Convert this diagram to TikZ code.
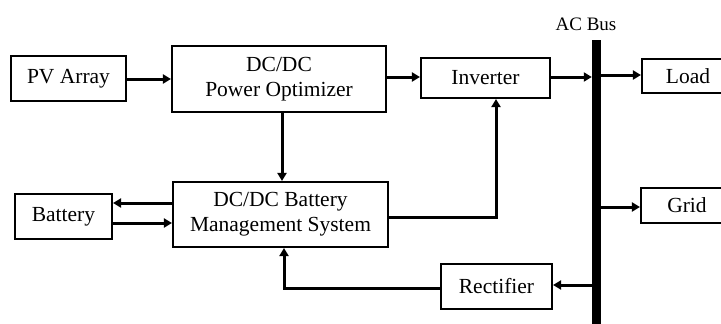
\documentclass[tikz,border=0pt]{standalone}
\usepackage{fontspec}
\setmainfont{Liberation Serif}
\usetikzlibrary{arrows.meta}
\begin{document}
\begin{tikzpicture}[x=1pt,y=-1pt,
  blk/.style={draw=black,line width=2.1pt,inner sep=0pt,align=center,
    font=\fontsize{21.5}{25}\selectfont},
  conn/.style={line width=3pt,-{Triangle[length=8pt,width=9pt]}},
  plain/.style={line width=3pt}]
\clip (0,0) rectangle (721,324);
\useasboundingbox (0,0) rectangle (721,324);
\node[blk,minimum width=115,minimum height=45] (pv) at (68.5,78.5) {PV Array};
\node[blk,minimum width=214,minimum height=66] (opt) at (279,79) {DC/DC\\Power Optimizer};
\node[blk,minimum width=129,minimum height=40] (inv) at (485.5,78) {Inverter};
\node[blk,minimum width=92,minimum height=34] (load) at (688,76) {Load};
\node[blk,minimum width=92,minimum height=35] (grid) at (687,205.5) {Grid};
\node[blk,minimum width=111,minimum height=45] (rect) at (496.5,286.5) {Rectifier};
\node[blk,minimum width=97,minimum height=45] (bat) at (63.5,216.5) {Battery};
\node[blk,minimum width=215,minimum height=65] (bms) at (280.5,214.5) {DC/DC Battery\\Management System};
\node[fill=black,inner sep=0pt,minimum width=9,minimum height=290] (bus) at (596.5,185) {};
\node[font=\fontsize{19}{22}\selectfont,inner sep=0pt] (buslbl) at (586,24) {AC Bus};
\coordinate (c1) at (284,288);
\coordinate (c2) at (496,217);
\draw[conn] (pv.east |- 0,79) -- (opt.west |- 0,79);
\draw[conn] (opt.east |- 0,77) -- (inv.west |- 0,77);
\draw[conn] (inv.east |- 0,77) -- (bus.west |- 0,77);
\draw[conn] (bus.east |- 0,75) -- (load.west |- 0,75);
\draw[conn] (bus.east |- 0,207) -- (grid.west |- 0,207);
\draw[conn] (bus.west |- 0,285) -- (rect.east |- 0,285);
\draw[conn] (rect.west |- c1) -- (c1) -- (c1 |- bms.south);
\draw[conn] (opt.south -| 282,0) -- (bms.north -| 282,0);
\draw[conn] (bms.east |- c2) -- (c2) -- (c2 |- inv.south);
\draw[conn] (bms.west |- 0,203) -- (bat.east |- 0,203);
\draw[conn] (bat.east |- 0,223) -- (bms.west |- 0,223);
\end{tikzpicture}
\end{document}
